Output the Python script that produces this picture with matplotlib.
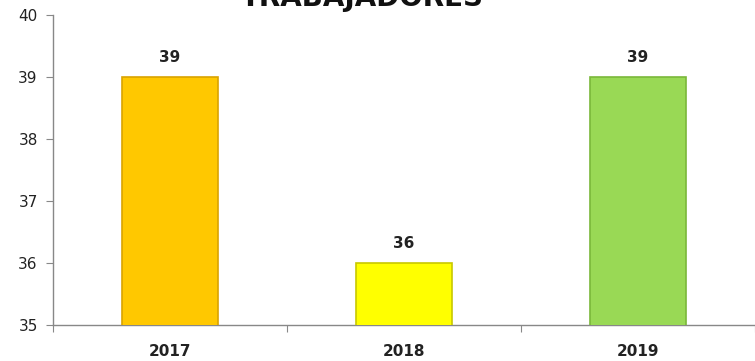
import matplotlib
matplotlib.use("Agg")
import matplotlib.pyplot as plt
from matplotlib.ticker import FixedLocator

categories = ["2017", "2018", "2019"]
values = [39, 36, 39]
colors = ["#FFC800", "#FFFF00", "#99D955"]
edge_colors = ["#D9A300", "#C8C800", "#7AB83A"]
title = "TRABAJADORES"

fig = plt.figure(figsize=(7.55, 3.61), dpi=100)
ax = fig.add_axes([53/755, 1-325/361, 1-53/755, (325-15)/361])

x = list(range(len(categories)))
ax.bar(x, values, width=0.41, bottom=0, color=colors, edgecolor=edge_colors, linewidth=1.2, zorder=3)
ax.set_ylim(35, 40)
ax.set_xlim(-0.5, len(categories) - 0.5)

for xi, v in zip(x, values):
    ax.text(xi, v + 0.2, f"{v}", ha="center", va="bottom", fontsize=11, fontweight="bold", color="#222222")

ax.set_yticks([35, 36, 37, 38, 39, 40])
ax.tick_params(axis="y", labelsize=11, length=5, color="#888888", labelcolor="#222222", pad=6)
ax.xaxis.set_major_locator(FixedLocator([i - 0.5 for i in range(len(categories) + 1)]))
ax.xaxis.set_major_formatter(plt.NullFormatter())
ax.xaxis.set_minor_locator(FixedLocator(x))
ax.set_xticklabels(categories, minor=True)
ax.tick_params(axis="x", which="major", length=5, color="#888888")
ax.tick_params(axis="x", which="minor", length=0, labelsize=11, pad=14, labelcolor="#222222")
for lbl in ax.get_xticklabels(minor=True):
    lbl.set_fontweight("bold")

for s in ["top", "right"]:
    ax.spines[s].set_visible(False)
for s in ["left", "bottom"]:
    ax.spines[s].set_color("#888888")
    ax.spines[s].set_linewidth(1)

fig.text(362/755, 1 - 6/361, title, ha="center", va="baseline", fontsize=20, fontweight="bold", color="#111111")

fig.savefig("out.png", dpi=100)
